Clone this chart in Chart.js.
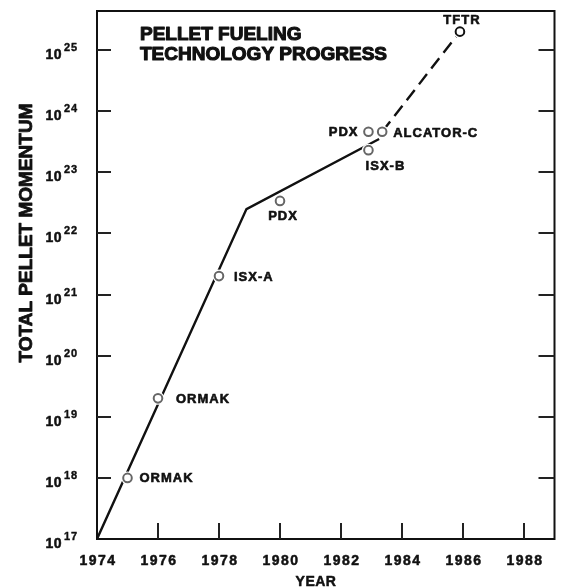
<!DOCTYPE html>
<html>
<head>
<meta charset="utf-8">
<script src="https://cdn.jsdelivr.net/npm/chart.js@4/dist/chart.umd.min.js"></script>
<style>
  html, body { margin: 0; padding: 0; background: #fff; }
  #c { display: block; }
</style>
</head>
<body>
<canvas id="c" width="561" height="588"></canvas>
<script>
// Pellet injector experiments: year and total pellet momentum
const machines = ['ORMAK', 'ORMAK', 'ISX-A', 'PDX', 'PDX', 'ISX-B', 'ALCATOR-C', 'TFTR'];
const years    = [1975, 1976, 1978, 1980, 1982.9, 1982.9, 1983.35, 1985.9];
const momentum = [1e18, 2e19, 2e21, 3.4e22, 4.6e23, 2.3e23, 4.6e23, 2e25];

// Trend through achieved results (solid) and projection (dashed)
const trendYears    = [1974, 1978.9, 1983.25];
const trendMomentum = [1e17, 2.5e22, 3.5e23];
const projYears     = [1983.35, 1985.9];
const projMomentum  = [4.6e23, 2e25];

// Axis ticks
const yearTicks = [1974, 1976, 1978, 1980, 1982, 1984, 1986, 1988];
const decadeExponents = [17, 18, 19, 20, 21, 22, 23, 24, 25];

// Label placement for each machine: alignment, offset from marker, offset to baseline
const labelPlacement = [
  { align: 'left',   dx: 12, dy: 4 },
  { align: 'left',   dx: 18, dy: 5 },
  { align: 'left',   dx: 15, dy: 5 },
  { align: 'center', dx: 3,  dy: 19 },
  { align: 'right',  dx: -10, dy: 4 },
  { align: 'center', dx: 17, dy: 20 },
  { align: 'left',   dx: 11, dy: 5 },
  { align: 'center', dx: 2,  dy: -8 }
];

const toXY = (xs, ys) => xs.map((x, i) => ({ x: x, y: ys[i] }));
const FONT = '"Liberation Sans", Arial, Helvetica, sans-serif';
const INK = '#111';

// heavy text: fill plus a thin outline in the same ink
function heavyText(ctx, text, x, y, weight) {
  ctx.fillText(text, x, y);
  if (weight > 0) {
    ctx.lineWidth = weight;
    ctx.lineJoin = 'round';
    ctx.strokeStyle = INK;
    ctx.strokeText(text, x, y);
  }
}

const decorations = {
  id: 'decorations',
  afterDraw(chart) {
    const ctx = chart.ctx;
    const xs = chart.scales.x, ys = chart.scales.y;
    const a = chart.chartArea;
    ctx.save();

    // frame
    ctx.strokeStyle = INK;
    ctx.lineWidth = 2;
    ctx.strokeRect(a.left, a.top, a.right - a.left, a.bottom - a.top);

    // inward ticks on left, right and bottom
    ctx.lineWidth = 2;
    ctx.strokeStyle = '#222';
    decadeExponents.forEach(e => {
      if (e === 17) return;
      const py = Math.round(ys.getPixelForValue(Math.pow(10, e)));
      ctx.beginPath();
      ctx.moveTo(a.left, py); ctx.lineTo(a.left + 14, py);
      ctx.moveTo(a.right, py); ctx.lineTo(a.right - 16, py);
      ctx.stroke();
    });
    yearTicks.forEach(yr => {
      if (yr === 1974) return;
      const px = Math.round(xs.getPixelForValue(yr));
      ctx.beginPath();
      ctx.moveTo(px, a.bottom); ctx.lineTo(px, a.bottom - 16);
      ctx.stroke();
    });

    ctx.fillStyle = INK;
    ctx.textBaseline = 'alphabetic';
    // y tick labels: 10 with superscript exponent
    decadeExponents.forEach(e => {
      const py = ys.getPixelForValue(Math.pow(10, e));
      ctx.font = 'bold 14px ' + FONT;
      ctx.textAlign = 'right';
      ctx.letterSpacing = '0.5px';
      heavyText(ctx, '10', 62, py + 9, 0.5);
      ctx.font = 'bold 11px ' + FONT;
      ctx.textAlign = 'left';
      ctx.letterSpacing = '1px';
      heavyText(ctx, String(e), 64, py + 1, 0.4);
    });

    // x tick labels
    ctx.font = 'bold 14px ' + FONT;
    ctx.letterSpacing = '1.5px';
    ctx.textAlign = 'center';
    yearTicks.forEach(yr => {
      const px = xs.getPixelForValue(yr);
      heavyText(ctx, String(yr), px + 1, 565, 0.5);
    });

    // axis titles
    ctx.font = 'bold 14px ' + FONT;
    ctx.letterSpacing = '0.5px';
    heavyText(ctx, 'YEAR', 316, 586, 0.5);

    ctx.save();
    ctx.translate(32, 233);
    ctx.rotate(-Math.PI / 2);
    ctx.font = 'bold 19px ' + FONT;
    ctx.letterSpacing = '0px';
    ctx.textAlign = 'center';
    heavyText(ctx, 'TOTAL PELLET MOMENTUM', 0, 0, 0.8);
    ctx.restore();

    // chart heading
    ctx.font = 'bold 19px ' + FONT;
    ctx.letterSpacing = '0px';
    ctx.textAlign = 'left';
    heavyText(ctx, 'PELLET FUELING', 140, 40, 1.1);
    heavyText(ctx, 'TECHNOLOGY PROGRESS', 140, 60, 1.1);

    // machine labels
    ctx.font = 'bold 13px ' + FONT;
    ctx.letterSpacing = '1px';
    machines.forEach((name, i) => {
      const p = labelPlacement[i];
      const px = xs.getPixelForValue(years[i]);
      const py = ys.getPixelForValue(momentum[i]);
      ctx.textAlign = p.align;
      heavyText(ctx, name, px + p.dx, py + p.dy, 0.6);
    });

    ctx.restore();
  }
};

new Chart(document.getElementById('c'), {
  type: 'scatter',
  data: {
    datasets: [
      {
        label: 'Experiments',
        data: toXY(years, momentum),
        order: 0,
        showLine: false,
        pointRadius: 4.3,
        pointBorderWidth: 2,
        pointBackgroundColor: '#fff',
        pointBorderColor: machines.map(m => m === 'TFTR' ? '#111' : '#666')
      },
      {
        label: 'halo',
        data: toXY(years, momentum),
        order: 1,
        showLine: false,
        pointRadius: 6.5,
        pointBorderWidth: 0,
        pointBackgroundColor: '#fff',
        pointBorderColor: '#fff'
      },
      {
        label: 'Trend',
        data: toXY(trendYears, trendMomentum),
        order: 2,
        showLine: true,
        borderColor: '#111',
        borderWidth: 2.4,
        pointRadius: 0,
        tension: 0
      },
      {
        label: 'Projection',
        data: toXY(projYears, projMomentum),
        order: 2,
        showLine: true,
        borderColor: '#111',
        borderWidth: 2.4,
        borderDash: [13, 7],
        pointRadius: 0,
        tension: 0
      }
    ]
  },
  options: {
    responsive: false,
    animation: false,
    devicePixelRatio: 1,
    layout: { padding: { left: 97, right: 4, top: 11, bottom: 49 } },
    plugins: { legend: { display: false }, tooltip: { enabled: false } },
    scales: {
      x: { type: 'linear', min: 1974, max: 1989, display: false },
      y: { type: 'logarithmic', min: 1e17, max: 4.35e25, display: false }
    }
  },
  plugins: [decorations]
});
</script>
</body>
</html>
